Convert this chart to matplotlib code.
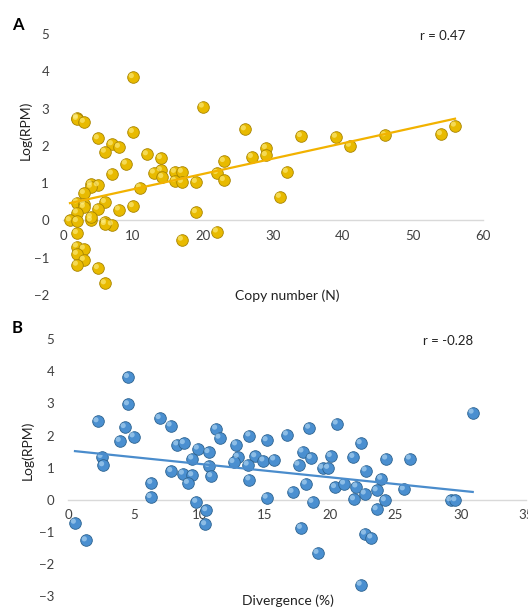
import numpy as np
import matplotlib
matplotlib.use('Agg')
import matplotlib.pyplot as plt
from matplotlib.transforms import ScaledTranslation

plt.rcParams['font.family'] = ['Lato', 'DejaVu Sans']

# Painel A: numero de copias x Log(RPM)
copias = [10, 20, 2, 2, 3, 26, 10, 5, 7, 8, 6, 12, 14, 9, 14, 23, 27, 29, 29, 32,
          31, 34, 39, 41, 46, 54, 56, 13, 14.2, 16, 17, 16, 17, 19, 22, 23, 11, 7,
          4, 5, 4, 3, 2, 3, 3, 6, 5, 8, 10, 2, 19, 1, 2, 4, 4, 6, 7, 6, 2, 22, 17,
          2, 3, 2, 3, 2, 5, 6]
log_rpm_a = [3.84, 3.05, 2.76, 2.72, 2.64, 2.44, 2.37, 2.2, 2.04, 1.97, 1.84, 1.77,
             1.67, 1.52, 1.34, 1.59, 1.7, 1.94, 1.75, 1.3, 0.63, 2.26, 2.24, 2.0,
             2.28, 2.31, 2.54, 1.28, 1.16, 1.3, 1.3, 1.06, 1.03, 1.03, 1.27, 1.08,
             0.88, 1.25, 0.97, 0.94, 0.9, 0.73, 0.48, 0.45, 0.36, 0.49, 0.31, 0.29,
             0.38, 0.21, 0.22, 0.0, -0.02, 0.0, 0.09, -0.04, -0.11, -0.1, -0.34,
             -0.3, -0.52, -0.7, -0.76, -0.9, -1.06, -1.19, -1.28, -1.69]

# Painel B: divergencia (%) x Log(RPM)
divergencia = [4.57, 4.57, 2.24, 4.32, 5.0, 3.94, 2.55, 2.67, 6.99, 7.83, 8.34, 8.84,
               9.91, 10.72, 11.31, 11.56, 12.83, 12.96, 12.63, 13.85, 9.48, 10.75,
               14.3, 13.72, 7.88, 8.77, 9.48, 9.15, 10.93, 13.85, 6.35, 6.3, 9.79,
               10.55, 10.47, 0.51, 1.35, 15.17, 15.17, 14.92, 15.75, 16.72, 18.42,
               20.53, 17.91, 18.55, 17.6, 20.07, 19.44, 19.87, 21.8, 22.36, 22.74,
               24.31, 26.12, 18.17, 17.15, 20.4, 21.09, 22.03, 22.67, 23.93, 23.58,
               25.66, 18.67, 21.85, 24.21, 23.58, 29.22, 29.6, 30.92, 17.79, 22.69,
               23.17, 19.06, 22.36]
log_rpm_b = [3.82, 2.97, 2.44, 2.26, 1.97, 1.83, 1.33, 1.07, 2.54, 2.31, 1.72, 1.76,
             1.59, 1.48, 2.21, 1.93, 1.72, 1.33, 1.17, 2.0, 1.28, 1.05, 1.35, 1.09,
             0.89, 0.81, 0.76, 0.52, 0.73, 0.63, 0.52, 0.08, -0.07, -0.33, -0.77,
             -0.72, -1.27, 0.06, 1.85, 1.22, 1.25, 2.03, 2.24, 2.37, 1.5, 1.3, 1.09,
             1.36, 0.99, 0.99, 1.33, 1.76, 0.91, 1.28, 1.28, 0.5, 0.24, 0.39, 0.5,
             0.41, 0.19, 0.65, 0.29, 0.32, -0.07, 0.01, -0.02, -0.3, -0.02, -0.02,
             2.71, -0.88, -1.06, -1.18, -1.66, -2.65]

r_a = 0.47
r_b = -0.28

fig = plt.figure(figsize=(5.28, 6.07), dpi=100)
ax1 = fig.add_axes([0.1193, 0.514, 0.7955, 0.430])
ax2 = fig.add_axes([0.1294, 0.0181, 0.867, 0.423])


def esferas(ax, x, y, cor, borda, brilho):
    # bolinhas com efeito 3D: base + brilho deslocado
    ax.scatter(x, y, s=70, color=cor, edgecolors=borda, linewidths=0.6, zorder=3)
    desloc = ax.transData + ScaledTranslation(-1.2 / 72, 1.2 / 72, fig.dpi_scale_trans)
    ax.scatter(x, y, s=14, color=brilho, edgecolors='none', alpha=0.6,
               transform=desloc, zorder=4)


def estilo(ax, xmax, ymin, ymax, xpasso):
    ax.set_xlim(0, xmax)
    ax.set_ylim(ymin, ymax)
    ax.set_xticks(np.arange(0, xmax + 1, xpasso))
    ax.set_yticks(np.arange(ymin, ymax + 1, 1))
    for s in ['top', 'right', 'left']:
        ax.spines[s].set_visible(False)
    ax.spines['bottom'].set_position(('data', 0))
    ax.spines['bottom'].set_color('#d9d9d9')
    ax.spines['bottom'].set_linewidth(1.0)
    ax.tick_params(axis='x', length=0, pad=7, labelsize=9.5, colors='#404040')
    ax.tick_params(axis='y', length=0, pad=10, labelsize=9.5, colors='#404040')
    ax.patch.set_alpha(0)


# Grafico A
esferas(ax1, copias, log_rpm_a, '#e8ba00', '#a88400', '#fff08a')
coef_a = np.polyfit(copias, log_rpm_a, 1)
xa = np.array([min(copias), max(copias)])
ax1.plot(xa, np.polyval(coef_a, xa), color='#f2b200', linewidth=1.6, zorder=5)
estilo(ax1, 60, -2, 5, 10)
fig.text(420 / 528, 1 - 36 / 607, 'r = %.2f' % r_a, fontsize=9.5, color='#222222',
         va='center')
fig.text(287.5 / 528, 1 - 296 / 607, 'Copy number (N)', ha='center', va='center',
         fontsize=10, color='#222222')
fig.text(25 / 528, 1 - 130 / 607, 'Log(RPM)', rotation=90, ha='center',
         va='center', fontsize=10, color='#222222')
fig.text(12 / 528, 1 - 25 / 607, 'A', fontsize=12, fontweight='bold',
         ha='left', va='center')

# Grafico B
esferas(ax2, divergencia, log_rpm_b, '#4a8fd0', '#2c628f', '#b9dcf5')
coef_b = np.polyfit(divergencia, log_rpm_b, 1)
xb = np.array([min(divergencia), max(divergencia)])
ax2.plot(xb, np.polyval(coef_b, xb), color='#4a8ccc', linewidth=1.6, zorder=5)
estilo(ax2, 35, -3, 5, 5)
fig.text(288 / 528, 1 - 601 / 607, 'Divergence (%)', ha='center', va='center',
         fontsize=10, color='#222222')
fig.text(27 / 528, 1 - 450 / 607, 'Log(RPM)', rotation=90, ha='center',
         va='center', fontsize=10, color='#222222')
fig.text(12 / 528, 1 - 328 / 607, 'B', fontsize=12, fontweight='bold',
         ha='left', va='center')
fig.text(423 / 528, 1 - 341 / 607, 'r = %.2f' % r_b, fontsize=9.5, color='#222222',
         va='center')

fig.savefig('out.png', dpi=100)
